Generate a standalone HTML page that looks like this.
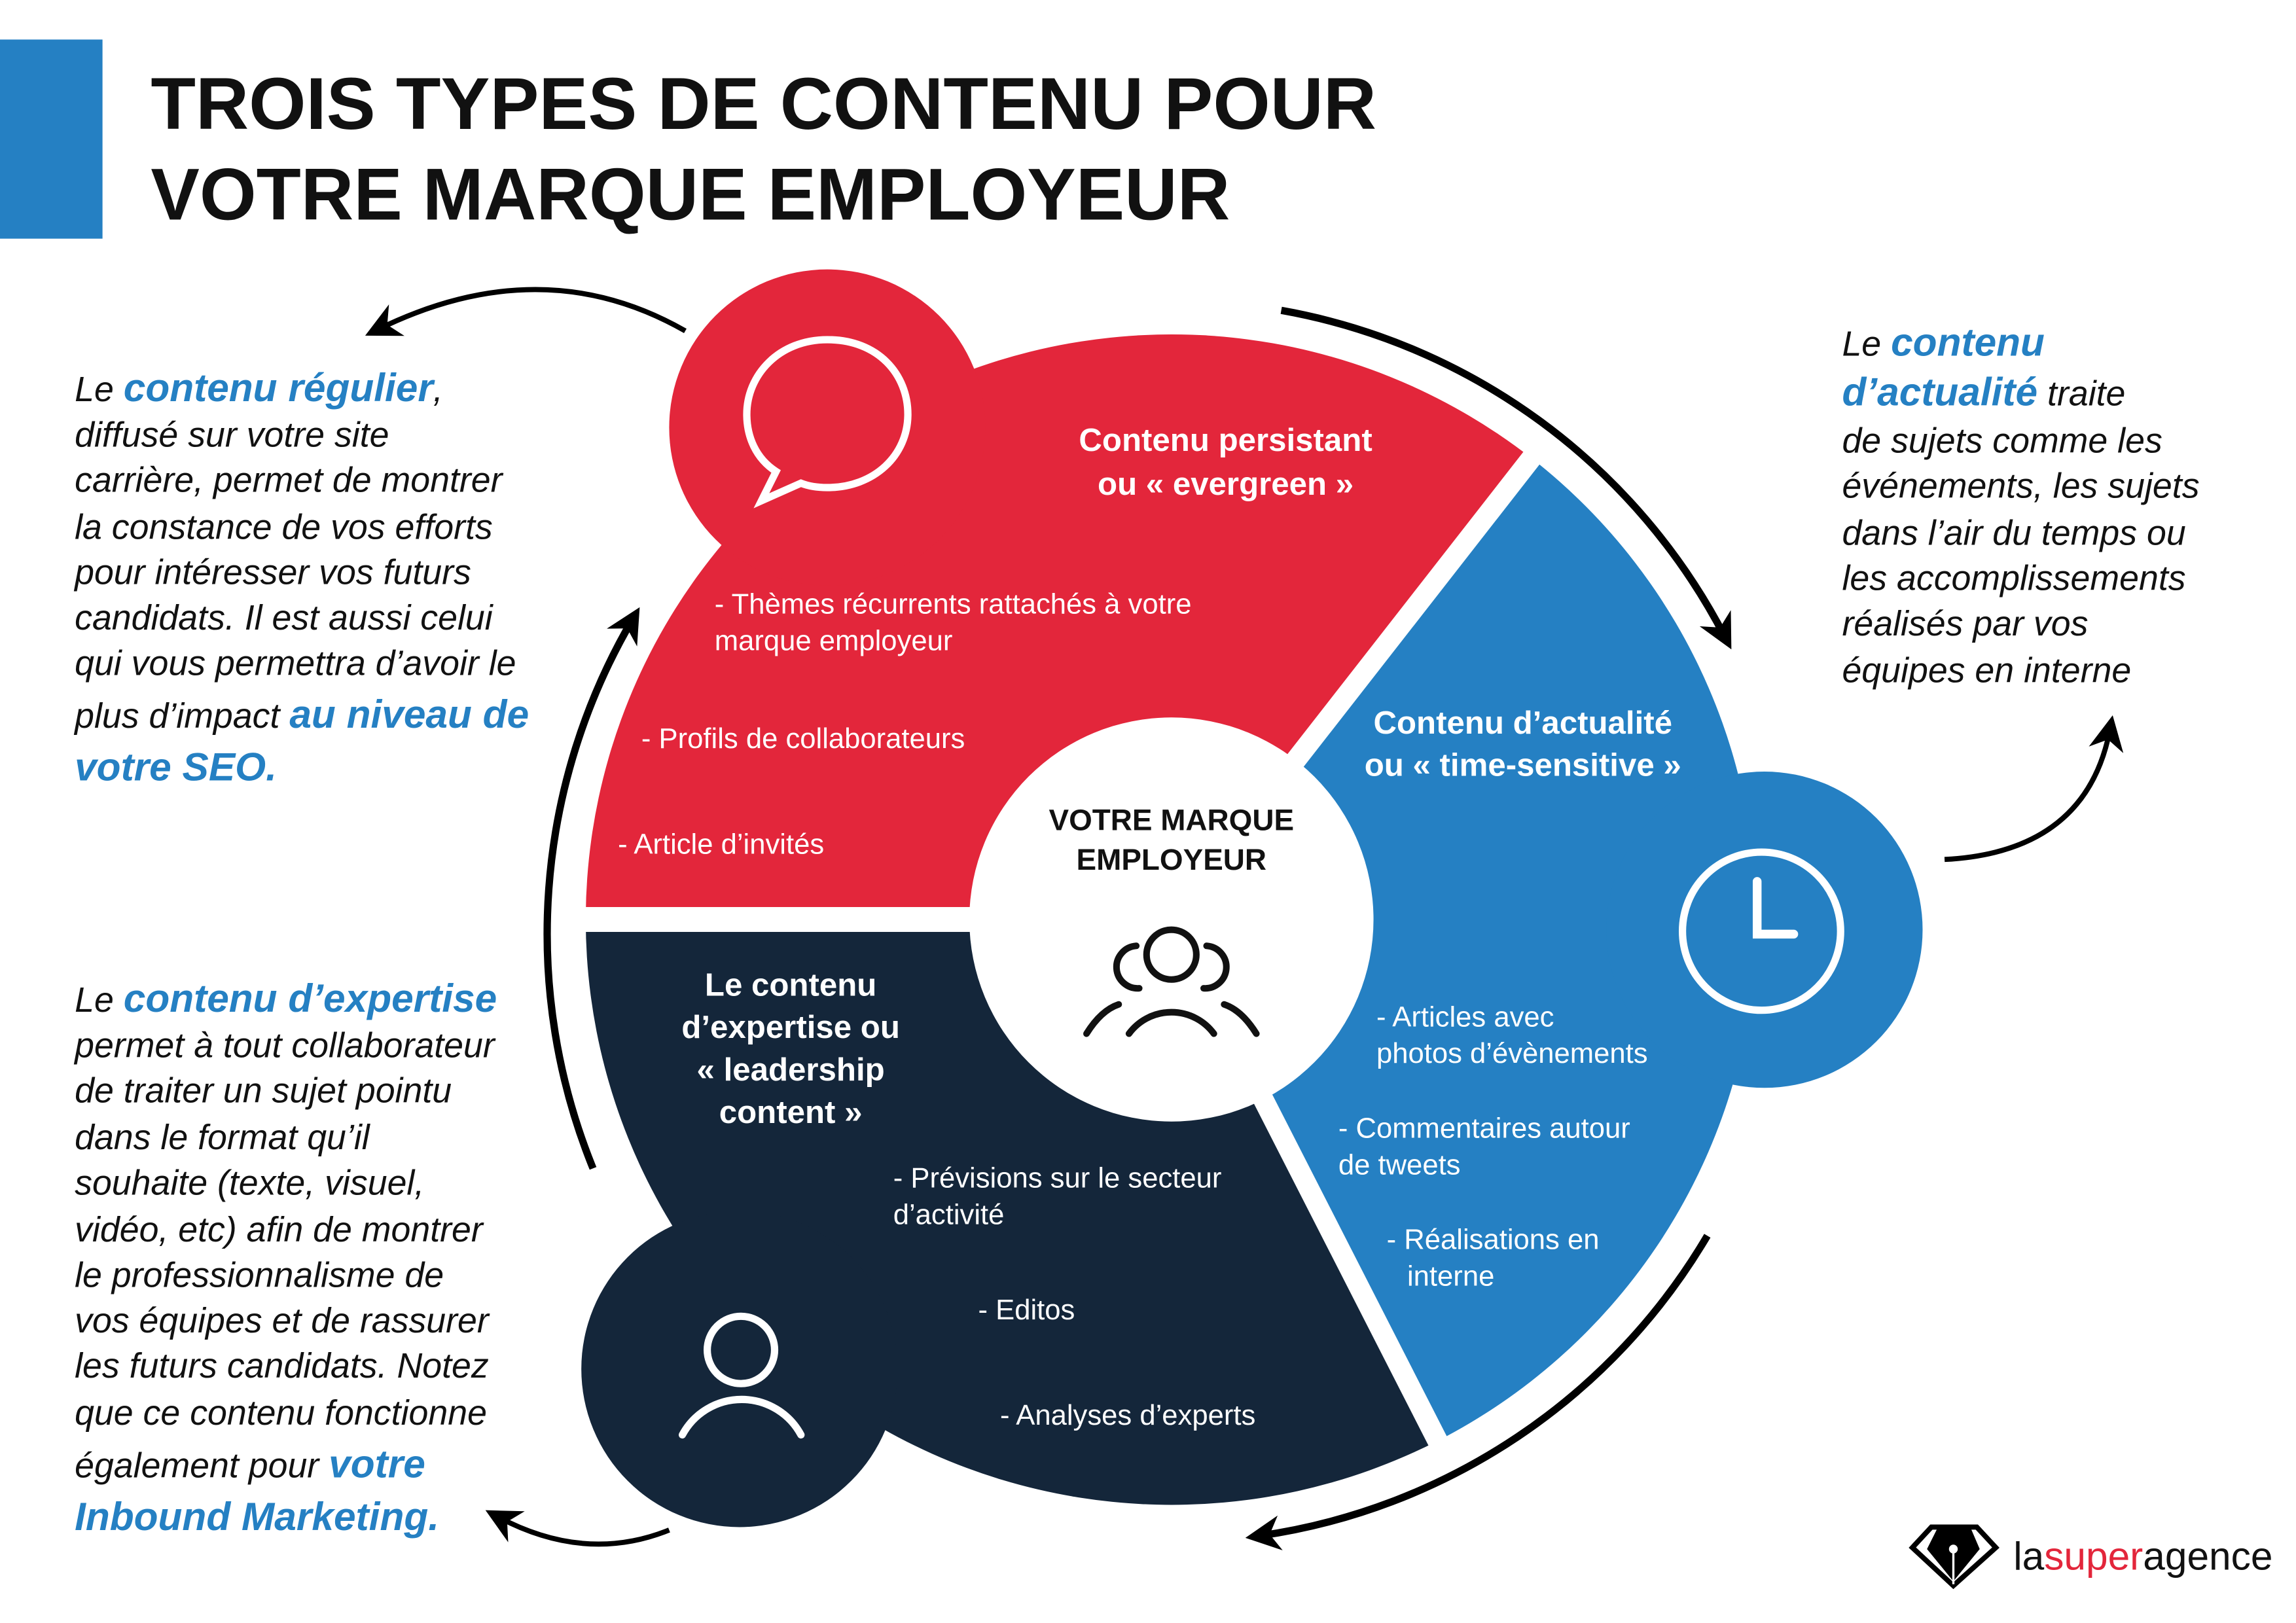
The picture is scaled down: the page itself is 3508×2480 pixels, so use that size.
<!DOCTYPE html>
<html><head><meta charset="utf-8"><style>
html,body{margin:0;padding:0;background:#fff;}
svg{display:block;}
text{font-family:"Liberation Sans",sans-serif;}
.it{font-style:italic;font-size:24px;fill:#111;}
.bl{fill:#2580C3;font-weight:bold;font-size:27px;}
.w{fill:#fff;font-size:19.5px;}
.wh{fill:#fff;font-size:22px;font-weight:bold;}
</style></head><body>
<svg width="3508" height="2480" viewBox="0 0 1568 1108.5" xmlns="http://www.w3.org/2000/svg">
<defs>
<marker id="ah" viewBox="0 0 10 10" refX="6" refY="5" markerWidth="24" markerHeight="24" markerUnits="userSpaceOnUse" orient="auto">
<path d="M0,0 L10,5 L0,10 L3,5 Z" fill="#000"/>
</marker>
</defs>
<rect x="0" y="27" width="70" height="136" fill="#2580C3"/>
<text x="103" y="88" font-size="50" font-weight="bold" textLength="837" lengthAdjust="spacingAndGlyphs" fill="#111">TROIS TYPES DE CONTENU POUR</text>
<text x="103" y="150" font-size="50" font-weight="bold" textLength="737" lengthAdjust="spacingAndGlyphs" fill="#111">VOTRE MARQUE EMPLOYEUR</text>

<path d="M800,628 L400,628 A400,400 0 0 1 1046,313 Z" fill="#E3263B"/>
<circle cx="565" cy="292" r="108" fill="#E3263B"/>
<path d="M800,628 L1046,313 A400,400 0 0 1 982,984 Z" fill="#2580C3"/>
<circle cx="1205" cy="635" r="108" fill="#2580C3"/>
<path d="M800,628 L982,984 A400,400 0 0 1 400,628 Z" fill="#14263A"/>
<circle cx="505" cy="935" r="108" fill="#14263A"/>
<line x1="800" y1="628" x2="1070" y2="282" stroke="#fff" stroke-width="14"/>
<line x1="800" y1="628" x2="995" y2="1010" stroke="#fff" stroke-width="14"/>
<line x1="800" y1="628" x2="380" y2="628" stroke="#fff" stroke-width="17"/>
<circle cx="800" cy="628" r="138" fill="#fff"/>

<path d="M875,212 A425,425 0 0 1 1178,435" fill="none" stroke="#000" stroke-width="5" marker-end="url(#ah)"/>
<path d="M1166,844 A425,425 0 0 1 860,1049" fill="none" stroke="#000" stroke-width="5" marker-end="url(#ah)"/>
<path d="M405,798 A425,425 0 0 1 432,423" fill="none" stroke="#000" stroke-width="5" marker-end="url(#ah)"/>
<path d="M468,226 Q370,170 258,225" fill="none" stroke="#000" stroke-width="3.5" marker-end="url(#ah)"/>
<path d="M457,1045 Q400,1068 340,1036" fill="none" stroke="#000" stroke-width="3.5" marker-end="url(#ah)"/>
<path d="M1328,587 Q1425,582 1441,498" fill="none" stroke="#000" stroke-width="3.5" marker-end="url(#ah)"/>

<path d="M565,232 C600,232 620,256 620,283 C620,311 597,333 565,333 C558,333 552,332 547,330 L520,342 L530,322 C516,313 510,298 510,283 C510,256 532,232 565,232 Z" fill="none" stroke="#fff" stroke-width="5"/>
<circle cx="1203" cy="636" r="54" fill="none" stroke="#fff" stroke-width="5"/>
<path d="M1200,602 L1200,638 L1225,638" fill="none" stroke="#fff" stroke-width="6" stroke-linecap="round"/>
<circle cx="506" cy="922" r="23" fill="none" stroke="#fff" stroke-width="5"/>
<path d="M466,980 A46,46 0 0 1 547,980" fill="none" stroke="#fff" stroke-width="5" stroke-linecap="round"/>
<circle cx="800" cy="652" r="17" fill="none" stroke="#111" stroke-width="4.5"/>
<path d="M776,646 A14,14 0 0 0 778,675" fill="none" stroke="#111" stroke-width="4.5" stroke-linecap="round"/>
<path d="M824,646 A14,14 0 0 1 822,675" fill="none" stroke="#111" stroke-width="4.5" stroke-linecap="round"/>
<path d="M771,706 A36,36 0 0 1 829,706" fill="none" stroke="#111" stroke-width="4.5" stroke-linecap="round"/>
<path d="M742,706 Q752,690 764,686" fill="none" stroke="#111" stroke-width="4.5" stroke-linecap="round"/>
<path d="M858,706 Q848,690 836,686" fill="none" stroke="#111" stroke-width="4.5" stroke-linecap="round"/>

<text x="800" y="567" text-anchor="middle" font-size="20.5" font-weight="bold" fill="#111">VOTRE MARQUE</text>
<text x="800" y="594" text-anchor="middle" font-size="20.5" font-weight="bold" fill="#111">EMPLOYEUR</text>

<text class="wh" x="837" y="308" text-anchor="middle">Contenu persistant</text>
<text class="wh" x="837" y="338" text-anchor="middle">ou « evergreen »</text>
<text class="w" x="488" y="419">- Thèmes récurrents rattachés à votre</text>
<text class="w" x="488" y="444">marque employeur</text>
<text class="w" x="438" y="511">- Profils de collaborateurs</text>
<text class="w" x="422" y="583">- Article d’invités</text>
<text class="wh" x="1040" y="501" text-anchor="middle">Contenu d’actualité</text>
<text class="wh" x="1040" y="530" text-anchor="middle">ou « time-sensitive »</text>
<text class="w" x="940" y="701">- Articles avec</text>
<text class="w" x="940" y="726">photos d’évènements</text>
<text class="w" x="914" y="777">- Commentaires autour</text>
<text class="w" x="914" y="802">de tweets</text>
<text class="w" x="947" y="853">- Réalisations en</text>
<text class="w" x="961" y="878">interne</text>
<text class="wh" x="540" y="680" text-anchor="middle">Le contenu</text>
<text class="wh" x="540" y="709" text-anchor="middle">d’expertise ou</text>
<text class="wh" x="540" y="738" text-anchor="middle">« leadership</text>
<text class="wh" x="540" y="767" text-anchor="middle">content »</text>
<text class="w" x="610" y="811">- Prévisions sur le secteur</text>
<text class="w" x="610" y="836">d’activité</text>
<text class="w" x="668" y="901">- Editos</text>
<text class="w" x="683" y="973">- Analyses d’experts</text>

<text class="it" x="51" y="274">Le <tspan class="bl">contenu régulier</tspan>,</text>
<text class="it" x="51" y="305">diffusé sur votre site</text>
<text class="it" x="51" y="336">carrière, permet de montrer</text>
<text class="it" x="51" y="368">la constance de vos efforts</text>
<text class="it" x="51" y="399">pour intéresser vos futurs</text>
<text class="it" x="51" y="430">candidats. Il est aussi celui</text>
<text class="it" x="51" y="461">qui vous permettra d’avoir le</text>
<text class="it" x="51" y="497">plus d’impact <tspan class="bl">au niveau de</tspan></text>
<text class="it bl" x="51" y="533">votre SEO.</text>
<text class="it" x="51" y="691">Le <tspan class="bl">contenu d’expertise</tspan></text>
<text class="it" x="51" y="722">permet à tout collaborateur</text>
<text class="it" x="51" y="753">de traiter un sujet pointu</text>
<text class="it" x="51" y="785">dans le format qu’il</text>
<text class="it" x="51" y="816">souhaite (texte, visuel,</text>
<text class="it" x="51" y="848">vidéo, etc) afin de montrer</text>
<text class="it" x="51" y="879">le professionnalisme de</text>
<text class="it" x="51" y="910">vos équipes et de rassurer</text>
<text class="it" x="51" y="941">les futurs candidats. Notez</text>
<text class="it" x="51" y="973">que ce contenu fonctionne</text>
<text class="it" x="51" y="1009">également pour <tspan class="bl">votre</tspan></text>
<text class="it bl" x="51" y="1045">Inbound Marketing.</text>
<text class="it" x="1258" y="243">Le <tspan class="bl">contenu</tspan></text>
<text class="it" x="1258" y="277"><tspan class="bl">d’actualité</tspan> traite</text>
<text class="it" x="1258" y="309">de sujets comme les</text>
<text class="it" x="1258" y="340">événements, les sujets</text>
<text class="it" x="1258" y="372">dans l’air du temps ou</text>
<text class="it" x="1258" y="403">les accomplissements</text>
<text class="it" x="1258" y="434">réalisés par vos</text>
<text class="it" x="1258" y="466">équipes en interne</text>

<polygon points="1306,1057 1319,1043 1350,1043 1363,1057 1334,1083" fill="none" stroke="#000" stroke-width="3.5"/>
<polygon points="1323,1044 1346,1044 1352,1058 1334,1080 1316,1058" fill="#000"/>
<line x1="1334" y1="1060" x2="1334" y2="1082" stroke="#fff" stroke-width="1.5"/>
<circle cx="1334" cy="1058" r="3" fill="#fff"/>
<text x="1375" y="1072" font-size="27" fill="#111">la<tspan fill="#E3263B">super</tspan>agence</text>
</svg>
</body></html>
